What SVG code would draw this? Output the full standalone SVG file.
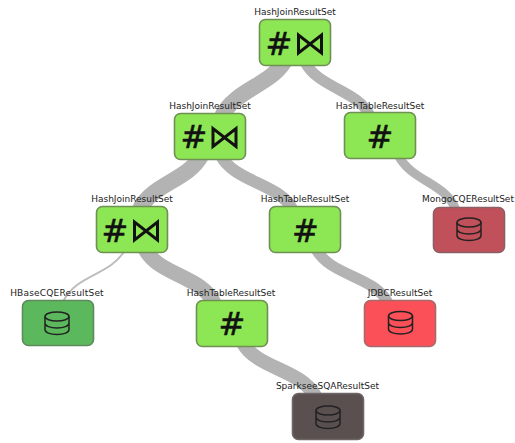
<svg xmlns="http://www.w3.org/2000/svg" width="515" height="443" viewBox="0 0 515 443">
<style>
.e{fill:none;stroke:#b3b3b3;stroke-linecap:butt}
.n{stroke-width:1.6;stroke:#6f8f55}
.j{fill:#8de653}
.l{font:9px "DejaVu Sans",sans-serif;fill:#222;text-anchor:middle}
.h{font:32px "DejaVu Sans",sans-serif;fill:#111;stroke:#111;stroke-width:.5;text-anchor:middle}
.b{fill:none;stroke:#111;stroke-width:3;stroke-linejoin:miter}
.d{fill:none;stroke:#222;stroke-width:1.5}
</style>
<defs>
<g id="db"><ellipse cx="0" cy="-6.500" rx="12" ry="4.500" class="d"/><path class="d" d="M-12-6.500V6.500C-12 9.500-7 11.500 0 11.500S12 9.500 12 6.500V-6.500M-12 0C-12 3-7 5 0 5S12 3 12 0"/></g>
<path id="bt" class="b" d="M-11.500-9V9L11.500-9V9Z"/>
</defs>
<g id="connectors">
<path class="e" stroke-width="16" d="M284 62C270 85 235 90 222 116"/>
<path class="e" stroke-width="11" d="M305 62C318 88 358 90 370 116"/>
<path class="e" stroke-width="16" d="M201 156C188 180 152 184 140 209"/>
<path class="e" stroke-width="12" d="M221 156C235 182 280 184 292 209"/>
<path class="e" stroke-width="9" d="M398 155C412 182 445 182 456 210"/>
<path class="e" stroke-width="2" style="stroke:#bdbdbd" d="M125 250C110 276 76 274 63 302"/>
<path class="e" stroke-width="15" d="M145 249C158 275 202 276 214 303"/>
<path class="e" stroke-width="11" d="M316 249C330 276 375 276 388 303"/>
<path class="e" stroke-width="14" d="M243 343C256 368 302 370 315 396"/>
</g>
<g id="n1"><rect class="n j" x="259.500" y="19.500" width="71" height="46" rx="6"/><text class="l" x="295" y="15">HashJoinResultSet</text><text class="h" x="279" y="55">#</text><use href="#bt" x="310" y="44"/></g>
<g id="n2"><rect class="n j" x="174.500" y="113.500" width="71" height="46" rx="6"/><text class="l" x="210" y="109">HashJoinResultSet</text><text class="h" x="194" y="148">#</text><use href="#bt" x="224.500" y="137.500"/></g>
<g id="n3"><rect class="n j" x="344.500" y="112.500" width="71" height="46" rx="6"/><text class="l" x="380" y="109">HashTableResultSet</text><text class="h" x="380" y="148">#</text></g>
<g id="n4"><rect class="n j" x="96.500" y="206.500" width="71" height="46" rx="6"/><text class="l" x="132" y="202">HashJoinResultSet</text><text class="h" x="115" y="242">#</text><use href="#bt" x="146" y="231"/></g>
<g id="n5"><rect class="n j" x="269.500" y="206.500" width="71" height="46" rx="6"/><text class="l" x="305" y="202">HashTableResultSet</text><text class="h" x="305.500" y="242">#</text></g>
<g id="n6"><rect class="n" style="fill:#c0505a;stroke:#8a6066" x="433.500" y="207.500" width="71" height="45" rx="6"/><text class="l" x="468" y="202">MongoCQEResultSet</text><use href="#db" x="469" y="229"/></g>
<g id="n7"><rect class="n" style="fill:#5cb85c;stroke:#5f8a5f" x="22.500" y="300.500" width="71" height="45" rx="6"/><text class="l" style="letter-spacing:.2px" x="57" y="296">HBaseCQEResultSet</text><use href="#db" x="57" y="323"/></g>
<g id="n8"><rect class="n j" x="196.500" y="300.500" width="71" height="46" rx="6"/><text class="l" x="231" y="296">HashTableResultSet</text><text class="h" x="232" y="335">#</text></g>
<g id="n9"><rect class="n" style="fill:#fb5058;stroke:#a56a6c" x="364.500" y="300.500" width="71" height="46" rx="6"/><text class="l" x="400" y="296">JDBCResultSet</text><use href="#db" x="400.500" y="322.500"/></g>
<g id="n10"><rect class="n" style="fill:#5a5050;stroke:#6e6666" x="292.500" y="393.500" width="71" height="46" rx="6"/><text class="l" x="327.500" y="389">SparkseeSQAResultSet</text><use href="#db" x="328" y="417"/></g>
</svg>
